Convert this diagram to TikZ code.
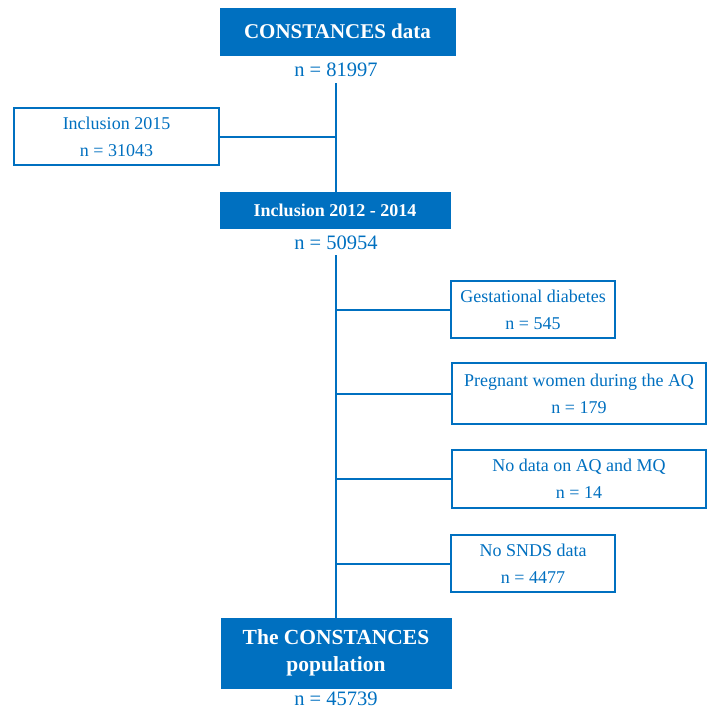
\documentclass[tikz,border=0pt]{standalone}
\usepackage{fontspec}
\setmainfont{Liberation Serif}
\definecolor{cblue}{RGB}{0,112,192}
\begin{document}
\begin{tikzpicture}[x=1pt,y=-1pt,
  filledbox/.style={rectangle,fill=cblue,draw=cblue,text=white,font=\bfseries,align=center,inner sep=0pt},
  openbox/.style={rectangle,draw=cblue,line width=2pt,fill=white,text=cblue,align=center,inner sep=0pt,font=\fontsize{18}{27}\selectfont},
  count/.style={text=cblue,font=\fontsize{20.5}{22}\selectfont,inner sep=1pt},
  link/.style={draw=cblue,line width=2pt}]
\useasboundingbox (0,0) rectangle (707,710);
\coordinate (trunk) at (336,0);
\node[filledbox,minimum width=235pt,minimum height=47pt,font=\bfseries\fontsize{21}{24}\selectfont] (top) at (337.5,31.5) {CONSTANCES data};
\node[count] (n1) at (336,70) {n = 81997};
\node[openbox,minimum width=205pt,minimum height=57pt] (inc15) at (116.5,136.5) {Inclusion 2015\\n = 31043};
\node[filledbox,minimum width=230pt,minimum height=36pt,font=\bfseries\fontsize{18}{20}\selectfont] (inc) at (335,210) {Inclusion 2012 - 2014};
\node[count] (n2) at (336,243) {n = 50954};
\node[openbox,minimum width=164pt,minimum height=57pt] (gest) at (533,309.5) {Gestational diabetes\\n = 545};
\node[openbox,minimum width=254pt,minimum height=61pt] (preg) at (579,393.5) {Pregnant women during the AQ\\n = 179};
\node[openbox,minimum width=254pt,minimum height=58pt] (nodata) at (579,479) {No data on AQ and MQ\\n = 14};
\node[openbox,minimum width=164pt,minimum height=57pt] (snds) at (533,563.5) {No SNDS data\\n = 4477};
\node[filledbox,minimum width=230pt,minimum height=70pt,font=\bfseries\fontsize{21.5}{27}\selectfont] (final) at (336,653) {The CONSTANCES\\population};
\node[count] (n3) at (336,699) {n = 45739};
\draw[link] ([yshift=-5pt]n1.south -| trunk) -- (inc.north -| trunk);
\draw[link] ([yshift=-4pt]n2.south -| trunk) -- (final.north -| trunk);
\draw[link] (inc15.east) -- (inc15.east -| trunk);
\draw[link] (gest.west) -- (gest.west -| trunk);
\draw[link] (preg.west) -- (preg.west -| trunk);
\draw[link] (nodata.west) -- (nodata.west -| trunk);
\draw[link] (snds.west) -- (snds.west -| trunk);
\end{tikzpicture}
\end{document}
